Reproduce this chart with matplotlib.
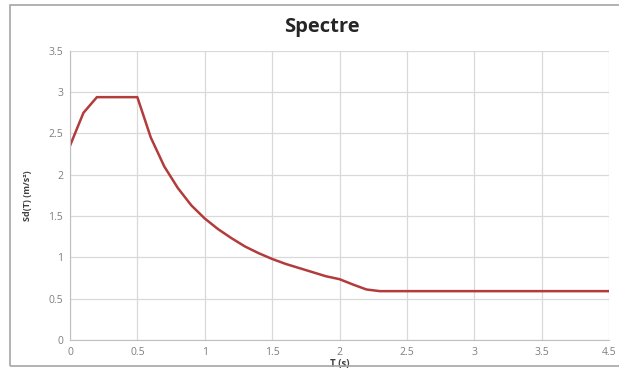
import matplotlib.pyplot as plt
from matplotlib.patches import Rectangle

# spectre values
periods = [0.0, 0.1, 0.2, 0.3, 0.4, 0.5, 0.6, 0.7, 0.8, 0.9, 1.0, 1.1, 1.2, 1.3, 1.4,
           1.5, 1.6, 1.7, 1.8, 1.9, 2.0, 2.1, 2.2, 2.3, 2.5, 3.0, 3.5, 4.0]
sd = [2.35, 2.75, 2.94, 2.94, 2.94, 2.94, 2.45, 2.10, 1.84, 1.63, 1.47, 1.34, 1.23, 1.13, 1.05,
      0.98, 0.92, 0.87, 0.82, 0.77, 0.735, 0.67, 0.61, 0.59, 0.59, 0.59, 0.59, 0.59]
xticks = [0, 0.5, 1, 1.5, 2, 2.5, 3, 3.5, 4]
xtick_labels = ['0', '0.5', '1', '1.5', '2', '2.5', '3', '3.5', '4.5']
yticks = [0, 0.5, 1, 1.5, 2, 2.5, 3, 3.5]
ytick_labels = ['0', '0.5', '1', '1.5', '2', '2.5', '3', '3.5']

plt.rcParams['font.family'] = ['Open Sans', 'DejaVu Sans']

fig = plt.figure(figsize=(6.19, 3.69), dpi=100)
fig.patches.append(Rectangle((0.016, 0.008), 0.99, 0.978, transform=fig.transFigure,
                             fill=False, edgecolor='#a6a6a6', linewidth=1.2))
ax = fig.add_axes([0.113, 0.079, 0.871, 0.783])

ax.plot(periods, sd, color='#b23b3b', linewidth=1.8)

ax.set_xlim(0, 4)
ax.set_ylim(0, 3.5)
ax.set_xticks(xticks)
ax.set_xticklabels(xtick_labels)
ax.set_yticks(yticks)
ax.set_yticklabels(ytick_labels)
ax.tick_params(labelsize=7.5, colors='#7f7f7f', length=0, pad=5)
ax.grid(True, color='#d9d9d9', linewidth=0.9)
ax.set_axisbelow(True)
for side in ['top', 'right']:
    ax.spines[side].set_visible(False)
for side in ['left', 'bottom']:
    ax.spines[side].set_color('#bfbfbf')

fig.suptitle('Spectre', x=0.52, y=0.955, fontsize=14.5, fontweight='bold', color='#262626')
ax.set_xlabel('T (s)', fontsize=7, fontweight='bold', color='#404040', labelpad=1)
ax.set_ylabel('Sd(T) (m/s²)', fontsize=6.5, fontweight='bold', color='#404040', labelpad=12)

fig.savefig('out.png', dpi=100)
